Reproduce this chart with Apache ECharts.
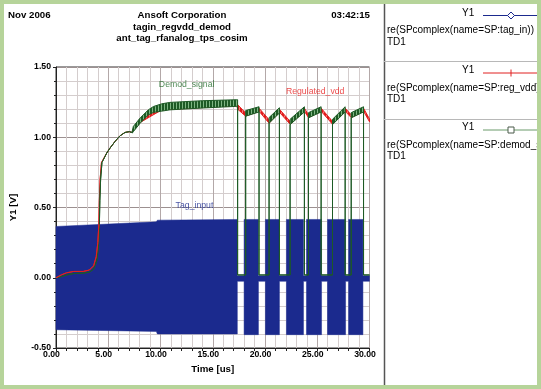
<!DOCTYPE html>
<html><head><meta charset="utf-8">
<script src="https://cdn.jsdelivr.net/npm/echarts@6/dist/echarts.min.js"></script>
<style>html,body{margin:0;padding:0;background:#fff}#c{width:541px;height:389px}</style>
</head><body><div id="c"></div>
<script>
// ---- axes ----
const xTicks = [0, 5, 10, 15, 20, 25, 30];
const yTicks = [-0.5, 0, 0.5, 1.0, 1.5];

// ---- Tag_input: envelope of the RF carrier (us, V) ----
const tagTime = [0, 9.6, 9.7, 17.35,
  17.35, 18.0, 18.0, 19.37, 19.37, 20.04, 20.04, 21.38, 21.38, 22.05, 22.05, 23.68,
  23.68, 23.97, 23.97, 25.41, 25.41, 25.98, 25.98, 27.71, 27.71, 28.0, 28.0, 29.37, 29.37, 30];
const tagHigh = [0.365, 0.398, 0.41, 0.415,
  0.015, 0.015, 0.415, 0.415, 0.015, 0.015, 0.415, 0.415, 0.015, 0.015, 0.415, 0.415,
  0.015, 0.015, 0.415, 0.415, 0.015, 0.015, 0.415, 0.415, 0.015, 0.015, 0.415, 0.415, 0.015, 0.015];
const tagLow = [-0.37, -0.382, -0.40, -0.40,
  -0.025, -0.025, -0.405, -0.405, -0.025, -0.025, -0.405, -0.405, -0.025, -0.025, -0.405, -0.405,
  -0.025, -0.025, -0.405, -0.405, -0.025, -0.025, -0.405, -0.405, -0.025, -0.025, -0.405, -0.405, -0.025, -0.025];

// ---- Demod_signal: upper / lower ripple envelope ----
const demodTime = [0, 0.5, 1.0, 1.7, 2.6, 3.2, 3.6, 3.9, 4.05, 4.15, 4.2, 4.27, 4.4, 4.85, 5.17, 5.65, 6.12, 6.6, 7.02, 7.24,
  7.3, 7.4, 8.05, 8.85, 9.33, 10.13, 10.9, 14.0, 17.3, 17.38,
  17.38, 18.15, 18.15, 19.43, 19.43, 20.39, 20.39, 21.38, 21.38, 22.4, 22.4, 23.77,
  23.77, 24.16, 24.16, 25.37, 25.37, 26.46, 26.46, 27.67, 27.67, 28.25, 28.25, 29.43, 29.43, 30];
const demodHigh = [0, 0.008, 0.02, 0.03, 0.033, 0.04, 0.062, 0.12, 0.21, 0.37, 0.55, 0.70, 0.82, 0.887, 0.923, 0.97, 1.01, 1.034, 1.04, 1.034,
  1.045, 1.077, 1.137, 1.196, 1.219, 1.238, 1.248, 1.26, 1.267, 1.267,
  0.02, 0.02, 1.19, 1.217, 0.02, 0.02, 1.14, 1.21, 0.02, 0.02, 1.128, 1.217,
  0.02, 0.02, 1.175, 1.217, 0.02, 0.02, 1.128, 1.217, 0.02, 0.02, 1.175, 1.217, 0.02, 0.02];
const demodLow = [0, 0.008, 0.02, 0.03, 0.033, 0.04, 0.062, 0.12, 0.21, 0.37, 0.55, 0.70, 0.82, 0.887, 0.923, 0.97, 1.01, 1.034, 1.04, 1.034,
  1.03, 1.04, 1.10, 1.16, 1.177, 1.186, 1.195, 1.208, 1.22, 1.22,
  0.02, 0.02, 1.15, 1.18, 0.02, 0.02, 1.10, 1.172, 0.02, 0.02, 1.09, 1.18,
  0.02, 0.02, 1.138, 1.18, 0.02, 0.02, 1.09, 1.18, 0.02, 0.02, 1.138, 1.18, 0.02, 0.02];

// ---- Regulated_vdd: upper / lower ripple envelope ----
const regTime = [0, 0.5, 1.0, 1.7, 2.6, 3.2, 3.6, 3.85, 4.0, 4.1, 4.15, 4.22, 4.35, 4.85, 5.17, 5.65, 6.12, 6.6, 7.02, 7.24,
  8.05, 10.13, 17.3, 17.38, 18.15, 19.43, 20.39, 21.38, 22.4, 23.77, 24.16, 25.37, 26.46, 27.67, 28.25, 29.43, 30];
const regHigh = [0, 0.02, 0.035, 0.045, 0.045, 0.055, 0.085, 0.15, 0.25, 0.38, 0.55, 0.70, 0.82, 0.887, 0.923, 0.97, 1.01, 1.034, 1.04, 1.034,
  1.125, 1.225, 1.255, 1.232, 1.173, 1.207, 1.125, 1.20, 1.113, 1.207, 1.16, 1.207, 1.113, 1.207, 1.16, 1.207, 1.13];
const regLow = [0, 0.02, 0.035, 0.045, 0.045, 0.055, 0.085, 0.15, 0.25, 0.38, 0.55, 0.70, 0.82, 0.887, 0.923, 0.97, 1.01, 1.034, 1.04, 1.034,
  1.105, 1.195, 1.225, 1.20, 1.15, 1.185, 1.10, 1.178, 1.093, 1.185, 1.14, 1.185, 1.093, 1.185, 1.14, 1.185, 1.11];
// Regulated_vdd is visible above the carrier band only before this time
const regFrontEnd = 4.1;

// ---- in-plot labels ----
const labelNames = ['Demod_signal', 'Regulated_vdd', 'Tag_input'];
const labelPos = [[12.5, 1.374], [24.8, 1.326], [13.25, 0.515]];
const labelColors = ['#236b2b', '#e82020', '#1b2a8e'];

function stripe(c1, c2, nDark) {
  const cv = document.createElement('canvas');
  cv.width = 3; cv.height = 2;
  const g = cv.getContext('2d');
  g.fillStyle = c2; g.fillRect(0, 0, 3, 2);
  g.fillStyle = c1; g.fillRect(0, 0, nDark, 2);
  return { image: cv, repeat: 'repeat' };
}
function envelope(api, T, H, L) {
  const up = [], lo = [];
  for (let i = 0; i < T.length; i++) {
    up.push(api.coord([T[i], H[i]]));
    lo.push(api.coord([T[i], L[i]]));
  }
  return up.concat(lo.reverse());
}
function bandSeries(name, T, H, L, style, z) {
  return {
    type: 'custom', name, coordinateSystem: 'cartesian2d', z, silent: true,
    data: [[T[0], H[0]]],
    renderItem: (params, api) => ({ type: 'polygon', shape: { points: envelope(api, T, H, L) }, style })
  };
}
const kReg = regTime.indexOf(regFrontEnd);

const chart = echarts.init(document.getElementById('c'), null, { renderer: 'canvas' });
const font = '"Liberation Sans", Arial, sans-serif';
const axisCol = '#222';

const legendG = [];
const entries = [
  { y: 0, col: '#1b2a8e', txt: 're(SPcomplex(name=SP:tag_in))', mk: 'diamond' },
  { y: 57.5, col: '#e02020', txt: 're(SPcomplex(name=SP:reg_vdd))', mk: 'plus' },
  { y: 114.5, col: '#6a9a6a', txt: 're(SPcomplex(name=SP:demod_signal))', mk: 'square' }
];
entries.forEach(e => {
  legendG.push({ type: 'text', left: 462, top: 8 + e.y, style: { text: 'Y1', font: '10px ' + font, fill: '#000' } });
  legendG.push({ type: 'line', shape: { x1: 483, y1: 15.5 + e.y, x2: 541, y2: 15.5 + e.y }, style: { stroke: e.col, lineWidth: 1 } });
  if (e.mk === 'diamond') legendG.push({ type: 'polygon', shape: { points: [[511, 12 + e.y], [514.5, 15.5 + e.y], [511, 19 + e.y], [507.5, 15.5 + e.y]] }, style: { fill: '#fff', stroke: e.col, lineWidth: 1 } });
  if (e.mk === 'plus') legendG.push({ type: 'line', shape: { x1: 511, y1: 12 + e.y, x2: 511, y2: 19 + e.y }, style: { stroke: e.col, lineWidth: 1 } });
  if (e.mk === 'square') legendG.push({ type: 'rect', shape: { x: 508, y: 12.5 + e.y, width: 6, height: 6 }, style: { fill: '#fff', stroke: '#4a5a4a', lineWidth: 1 } });
  legendG.push({ type: 'text', left: 387, top: 25.5 + e.y, style: { text: e.txt, font: '10px ' + font, fill: '#000' } });
  legendG.push({ type: 'text', left: 387, top: 37 + e.y, style: { text: 'TD1', font: '10px ' + font, fill: '#000' } });
});

const border = '#b6d49a';
const graphics = [
  { type: 'text', left: 8, top: 10, style: { text: 'Nov 2006', font: 'bold 9.7px ' + font, fill: '#000' } },
  { type: 'text', x: 182, y: 15, style: { text: 'Ansoft Corporation', font: 'bold 9.7px ' + font, fill: '#000', align: 'center', verticalAlign: 'middle' } },
  { type: 'text', x: 182, y: 27, style: { text: 'tagin_regvdd_demod', font: 'bold 9.7px ' + font, fill: '#000', align: 'center', verticalAlign: 'middle' } },
  { type: 'text', x: 182, y: 38.5, style: { text: 'ant_tag_rfanalog_tps_cosim', font: 'bold 9.7px ' + font, fill: '#000', align: 'center', verticalAlign: 'middle' } },
  { type: 'text', x: 370, y: 15, style: { text: '03:42:15', font: 'bold 9.7px ' + font, fill: '#000', align: 'right', verticalAlign: 'middle' } },
  { type: 'line', shape: { x1: 384.5, y1: 0, x2: 384.5, y2: 389 }, style: { stroke: '#555', lineWidth: 1.5 } },
  { type: 'line', shape: { x1: 384, y1: 61.5, x2: 541, y2: 61.5 }, style: { stroke: '#b8b8b8', lineWidth: 1 } },
  { type: 'line', shape: { x1: 384, y1: 119.5, x2: 541, y2: 119.5 }, style: { stroke: '#b8b8b8', lineWidth: 1 } },
  ...legendG,
  { type: 'rect', z: 100, shape: { x: 0, y: 0, width: 541, height: 4 }, style: { fill: border } },
  { type: 'rect', z: 100, shape: { x: 0, y: 385, width: 541, height: 4 }, style: { fill: border } },
  { type: 'rect', z: 100, shape: { x: 0, y: 0, width: 4, height: 389 }, style: { fill: border } },
  { type: 'rect', z: 100, shape: { x: 537, y: 0, width: 4, height: 389 }, style: { fill: border } }
];

const redStyle = { fill: stripe('#e01818', '#f27878', 2), stroke: '#e42020', lineWidth: 1 };

chart.setOption({
  animation: false,
  backgroundColor: '#fff',
  textStyle: { fontFamily: font },
  grid: { left: 56, right: 171.5, top: 67, bottom: 41, show: true, borderColor: '#333', borderWidth: 1, backgroundColor: '#fff' },
  xAxis: {
    type: 'value', min: xTicks[0], max: xTicks[xTicks.length - 1], interval: xTicks[1] - xTicks[0],
    axisLine: { show: true, onZero: false, lineStyle: { color: axisCol } },
    axisTick: { show: true, length: 3, lineStyle: { color: axisCol } },
    minorTick: { show: true, splitNumber: 5, length: 3, lineStyle: { color: axisCol } },
    splitLine: { show: true, lineStyle: { color: '#b3a8a8' } },
    minorSplitLine: { show: true, lineStyle: { color: '#d4cdcd' } },
    axisLabel: { formatter: v => v.toFixed(2), fontSize: 8.7, fontWeight: 'bold', color: '#000', margin: 2, padding: [0, 9, 0, 0] },
    name: 'Time [us]', nameLocation: 'middle', nameGap: 14,
    nameTextStyle: { fontWeight: 'bold', fontSize: 9.7, color: '#000' }
  },
  yAxis: {
    type: 'value', min: yTicks[0], max: yTicks[yTicks.length - 1], interval: yTicks[1] - yTicks[0],
    axisLine: { show: true, onZero: false, lineStyle: { color: axisCol } },
    axisTick: { show: true, length: 3, lineStyle: { color: axisCol } },
    minorTick: { show: true, splitNumber: 5, length: 2, lineStyle: { color: axisCol } },
    splitLine: { show: true, lineStyle: { color: '#9c9090' } },
    minorSplitLine: { show: true, lineStyle: { color: '#d4cdcd' } },
    axisLabel: { formatter: v => v.toFixed(2), fontSize: 8.7, fontWeight: 'bold', color: '#000', margin: 5 },
    name: 'Y1 [V]', nameLocation: 'middle', nameGap: 38,
    nameTextStyle: { fontWeight: 'bold', fontSize: 9.7, color: '#000' }
  },
  graphic: graphics,
  series: [
    bandSeries('Tag_input', tagTime, tagHigh, tagLow, { fill: '#1b2a8e', stroke: '#1b2a8e', lineWidth: 0.5 }, 2),
    bandSeries('Regulated_vdd', regTime.slice(kReg), regHigh.slice(kReg), regLow.slice(kReg), redStyle, 3),
    bandSeries('Demod_signal', demodTime, demodHigh, demodLow, { fill: stripe('#1d5a25', '#7fb583', 2), stroke: '#1d5a25', lineWidth: 1 }, 4),
    bandSeries('Regulated_vdd front', regTime.slice(0, kReg + 1), regHigh.slice(0, kReg + 1), regLow.slice(0, kReg + 1), redStyle, 5),
    {
      type: 'scatter', name: 'labels', z: 6, silent: true, symbolSize: 0,
      data: labelNames.map((n, i) => ({ value: labelPos[i], name: n, label: { color: labelColors[i] } })),
      label: { show: true, position: 'inside', formatter: p => p.name, fontSize: 8.7, fontFamily: font }
    }
  ]
});
</script></body></html>
